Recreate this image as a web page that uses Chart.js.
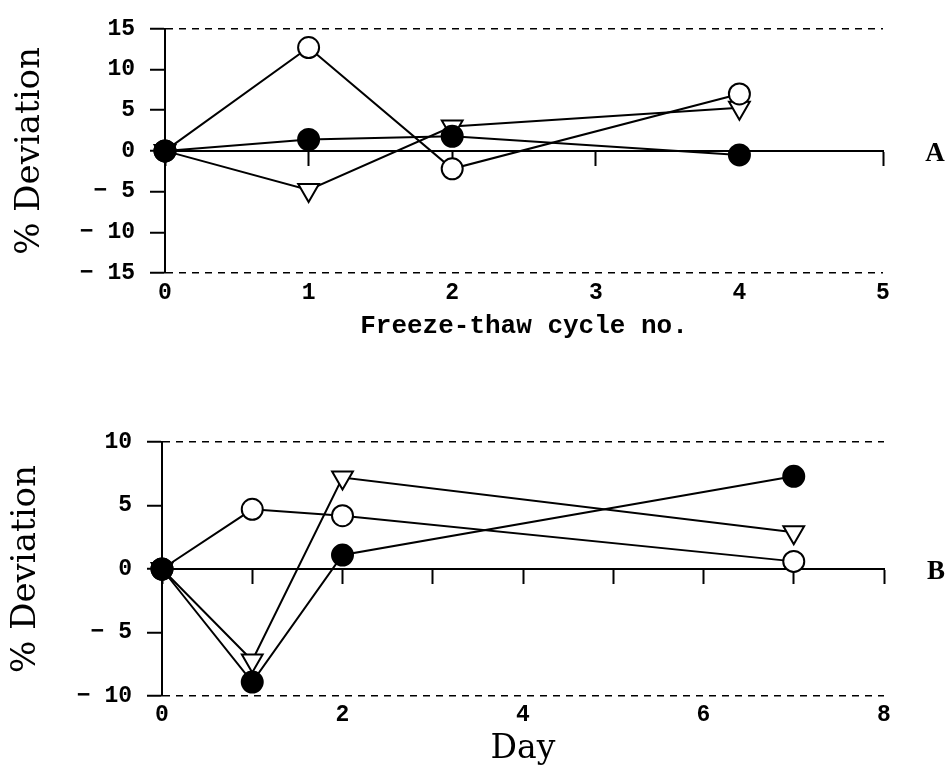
<!DOCTYPE html>
<html>
<head>
<meta charset="utf-8">
<script src="https://cdn.jsdelivr.net/npm/chart.js@4"></script>
<style>
  html, body { margin: 0; padding: 0; background: #fff; }
  .panel { position: absolute; left: 0; width: 947px; height: 384px; }
</style>
</head>
<body>
<div class="panel" style="top:0"><canvas id="chartA"></canvas></div>
<div class="panel" style="top:384px"><canvas id="chartB"></canvas></div>
<script>
// panel A - freeze/thaw cycles
const cyclesA = [0, 1, 2, 4];
const openA = [0, 12.7, -2.2, 7.0];
const triangleA = [0, -4.8, 3.0, 5.3];
const filledA = [0, 1.4, 1.8, -0.5];

// panel B - days
const daysB = [0, 1, 2, 7];
const openB = [0, 4.7, 4.2, 0.6];
const triangleB = [0, -7.2, 7.2, 2.9];
const filledB = [0, -8.9, 1.1, 7.3];

const tickFont = { family: '"Liberation Mono", monospace', size: 23, weight: 'bold' };
const serifFont = '"DejaVu Serif", serif';

// letter A / B to the right of the zero line
const panelLetter = {
    id: 'panelLetter',
    afterDraw(chart, args, opts) {
        const ctx = chart.ctx;
        const y = chart.scales.y.getPixelForValue(0);
        ctx.save();
        ctx.font = 'bold 27px "Liberation Serif"';
        ctx.fillStyle = '#000';
        ctx.textAlign = 'center';
        ctx.textBaseline = 'middle';
        ctx.fillText(opts.text, chart.chartArea.right + 52, y + 3);
        ctx.restore();
    }
};

function series(xs, ys, style) {
    return Object.assign({
        data: xs.map((x, i) => ({ x: x, y: ys[i] })),
        borderColor: '#000',
        borderWidth: 2,
        pointBorderColor: '#000',
        pointBorderWidth: 2,
        tension: 0,
        clip: false
    }, style);
}

const filledStyle = { pointStyle: 'circle', pointRadius: 10.5, pointBackgroundColor: '#000' };
const openStyle = { pointStyle: 'circle', pointRadius: 10.5, pointBackgroundColor: '#fff' };
const triangleStyle = { pointStyle: 'triangle', pointRadius: 12, pointRotation: 180, pointBackgroundColor: '#fff' };

function makeChart(canvas, p) {
    return new Chart(canvas, {
        type: 'line',
        data: {
            datasets: [
                series(p.xs, p.filled, filledStyle),
                series(p.xs, p.open, openStyle),
                series(p.xs, p.triangle, triangleStyle)
            ]
        },
        options: {
            responsive: true,
            maintainAspectRatio: false,
            animation: false,
            events: [],
            layout: { padding: p.padding },
            plugins: {
                legend: { display: false },
                tooltip: { enabled: false },
                panelLetter: { text: p.letter }
            },
            scales: {
                x: {
                    type: 'linear',
                    min: 0,
                    max: p.xMax,
                    afterFit: s => { s.height = p.bottomH; },
                    border: { display: false },
                    grid: { display: false, drawTicks: false },
                    ticks: { stepSize: p.labelStep, padding: p.xTickPad, color: '#000', font: tickFont },
                    title: {
                        display: true,
                        text: p.xTitle,
                        color: '#000',
                        font: p.xTitleFont,
                        padding: { top: 0, bottom: p.xTitlePad }
                    }
                },
                zero: {
                    axis: 'x',
                    type: 'linear',
                    position: { y: 0 },
                    min: 0,
                    max: p.xMax,
                    border: { color: '#000', width: 2 },
                    grid: { drawOnChartArea: false, drawTicks: true, tickLength: 14, tickColor: '#000', tickWidth: 2 },
                    ticks: { display: false, stepSize: 1 }
                },
                y: {
                    min: -p.yMax,
                    max: p.yMax,
                    afterFit: s => { s.width = p.leftW; },
                    border: { color: '#000', width: 2, dash: [7, 6] },
                    grid: {
                        color: c => (c.tick && Math.abs(c.tick.value) === p.yMax ? '#000' : 'rgba(0,0,0,0)'),
                        lineWidth: 1.5,
                        tickColor: '#000',
                        tickLength: 15,
                        tickWidth: 2
                    },
                    ticks: {
                        stepSize: p.yStep,
                        padding: 15,
                        color: '#000',
                        font: tickFont,
                        callback: v => (v < 0 ? '\u2212 ' + Math.abs(v) : String(v))
                    },
                    title: {
                        display: true,
                        text: '% Deviation',
                        color: '#000',
                        font: { family: serifFont, size: 34 },
                        padding: { top: p.yTitlePad, bottom: 0 }
                    }
                }
            }
        },
        plugins: [panelLetter]
    });
}

makeChart(document.getElementById('chartA'), {
    xs: cyclesA, open: openA, triangle: triangleA, filled: filledA,
    xMax: 5, labelStep: 1, yMax: 15, yStep: 5,
    padding: { top: 24, right: 64, left: 0, bottom: 0 },
    leftW: 165, bottomH: 111, xTickPad: 6,
    xTitle: 'Freeze-thaw cycle no.',
    xTitleFont: { family: '"Liberation Mono", monospace', size: 26, weight: 'bold' },
    xTitlePad: 42, yTitlePad: 10, letter: 'A'
});

makeChart(document.getElementById('chartB'), {
    xs: daysB, open: openB, triangle: triangleB, filled: filledB,
    xMax: 8, labelStep: 2, yMax: 10, yStep: 5,
    padding: { top: 58, right: 63, left: 0, bottom: 0 },
    leftW: 162, bottomH: 72, xTickPad: 5,
    xTitle: 'Day',
    xTitleFont: { family: serifFont, size: 33, lineHeight: 1 },
    xTitlePad: 2, yTitlePad: 6, letter: 'B'
});
</script>
</body>
</html>
